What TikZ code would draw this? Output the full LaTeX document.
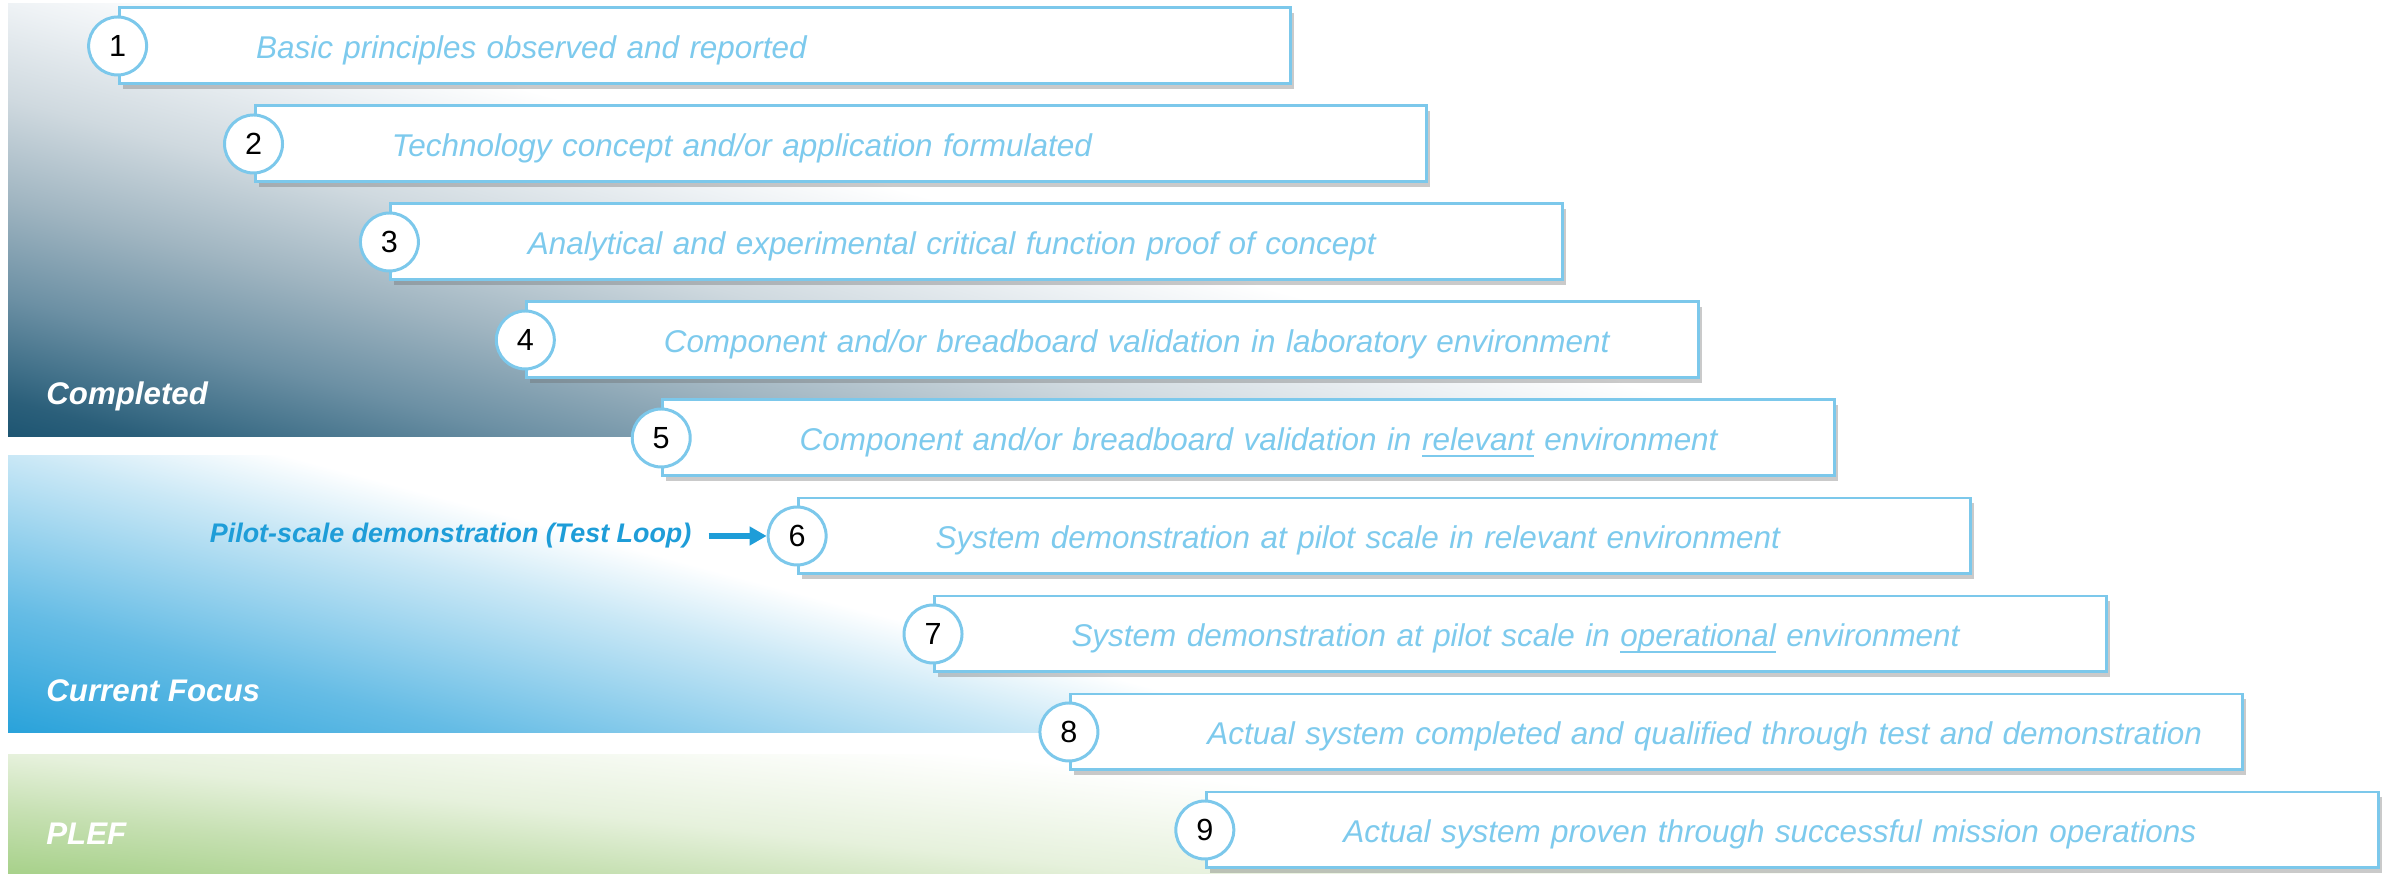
\documentclass[tikz,border=0pt]{standalone}
\usepackage{fontspec}
\setmainfont{Liberation Sans}
\usepackage{tikz}
\usetikzlibrary{arrows.meta}
\usetikzlibrary{positioning}
\usetikzlibrary{shadows}

\definecolor{trlblue}{HTML}{7CC8EB}
\definecolor{trltext}{HTML}{7DCAED}
\definecolor{pilotblue}{HTML}{1E9DD8}
\definecolor{compdark}{HTML}{1D5572}
\definecolor{compa}{HTML}{2B5F7A}
\definecolor{compb}{HTML}{3F6F88}
\definecolor{compc}{HTML}{6C90A4}
\definecolor{compd}{HTML}{A0B5C1}
\definecolor{compe}{HTML}{CFD9DF}
\definecolor{compf}{HTML}{EEF2F5}
\definecolor{focusblue}{HTML}{29A2DA}
\definecolor{focusmid}{HTML}{65BCE5}
\definecolor{focuslight}{HTML}{CAE8F6}
\definecolor{plefgreen}{HTML}{A7D18A}
\definecolor{plefmid}{HTML}{C6E0B2}
\definecolor{pleflight}{HTML}{E6F1DC}

% stops run from 25bp (zone corner) to 75bp (white)
\pgfdeclareverticalshading{completedshade}{100bp}{color(0bp)=(compdark); color(25bp)=(compdark); color(28.8bp)=(compa); color(32.1bp)=(compb); color(39.4bp)=(compc); color(49.4bp)=(compd); color(59.7bp)=(compe); color(69.5bp)=(compf); color(75bp)=(white); color(100bp)=(white)}
\pgfdeclareverticalshading{focusshade}{100bp}{color(0bp)=(focusblue); color(25bp)=(focusblue); color(42.6bp)=(focusmid); color(64.7bp)=(focuslight); color(75bp)=(white); color(100bp)=(white)}
\pgfdeclareverticalshading{plefshade}{100bp}{color(0bp)=(plefgreen); color(25bp)=(plefgreen); color(39.3bp)=(plefmid); color(52.3bp)=(pleflight); color(75bp)=(white); color(100bp)=(white)}

\newcommand{\trlunderline}[1]{\setbox0\hbox{#1}\rlap{\rule[-3.6pt]{\wd0}{1.4pt}}\box0\relax}

\begin{document}
\begin{tikzpicture}[x=0.02cm, y=0.02cm,
    stepbox/.style={draw=trlblue, line width=1.7pt, fill=white, minimum height=1.52cm,
        text width=23.44cm, inner xsep=0pt, align=left, text=trltext,
        text height=18.4pt, text depth=4pt,
        font=\fontsize{17.9}{20}\selectfont\itshape,
        execute at begin node={\noindent\hspace*{2.74cm}},
        drop shadow={shadow xshift=2pt, shadow yshift=-3pt, opacity=0.35, fill=black!60}},
    stepnum/.style={circle, draw=trlblue, line width=1.7pt, fill=white, minimum size=1.16cm,
        inner sep=0pt, font=\fontsize{17.4}{20}\selectfont},
    zonelabel/.style={anchor=base west, text=white, inner sep=0pt,
        font=\fontsize{17.8}{20}\selectfont\bfseries\itshape},
    pilotlabel/.style={text=pilotblue, inner xsep=0.34cm,
        font=\fontsize{15.3}{18}\selectfont\bfseries\itshape},
    pilotarrow/.style={draw=pilotblue, line width=0.12cm, -{Triangle[length=0.34cm, width=0.36cm]}}]

    \useasboundingbox (0,0) rectangle (2397,874);

    % zones
    \begin{scope}
        \clip (8,437) rectangle (2397,870);
        \begin{scope}[transform canvas={rotate around={-15:(8,437)}}]
            \shade[shading=completedshade] (-600,437) rectangle (2800,907);
        \end{scope}
    \end{scope}
    \begin{scope}
        \clip (8,141) rectangle (2397,418);
        \begin{scope}[transform canvas={rotate around={-15:(8,141)}}]
            \shade[shading=focusshade] (-600,141) rectangle (2800,481);
        \end{scope}
    \end{scope}
    \begin{scope}
        \clip (8,0) rectangle (2397,119);
        \begin{scope}[transform canvas={rotate around={-6:(8,0)}}]
            \shade[shading=plefshade] (-600,0) rectangle (2800,220);
        \end{scope}
    \end{scope}

    \node[zonelabel] (completed) at (46,469) {Completed};
    \node[zonelabel] (focus) at (46,172) {Current Focus};
    \node[zonelabel] (plef) at (46,29) {PLEF};

    % steps
    \node[stepbox] (step1) at (705,828) {Basic principles observed and reported};
    \node[stepbox] (step2) at (840.9,730) {Technology concept and/or application formulated};
    \node[stepbox] (step3) at (976.8,632) {Analytical and experimental critical function proof of concept};
    \node[stepbox] (step4) at (1112.7,534) {Component and/or breadboard validation in laboratory environment};
    \node[stepbox] (step5) at (1248.6,436) {Component and/or breadboard validation in \trlunderline{relevant} environment};
    \node[stepbox] (step6) at (1384.5,338) {System demonstration at pilot scale in relevant environment};
    \node[stepbox] (step7) at (1520.4,240) {System demonstration at pilot scale in \trlunderline{operational} environment};
    \node[stepbox] (step8) at (1656.3,142) {Actual system completed and qualified through test and demonstration};
    \node[stepbox] (step9) at (1792.2,44) {Actual system proven through successful mission operations};

    \node[stepnum] (num1) at (step1.west) {1};
    \node[stepnum] (num2) at (step2.west) {2};
    \node[stepnum] (num3) at (step3.west) {3};
    \node[stepnum] (num4) at (step4.west) {4};
    \node[stepnum] (num5) at (step5.west) {5};
    \node[stepnum] (num6) at (step6.west) {6};
    \node[stepnum] (num7) at (step7.west) {7};
    \node[stepnum] (num8) at (step8.west) {8};
    \node[stepnum] (num9) at (step9.west) {9};

    % test loop
    \node[pilotlabel, left=1.16cm of num6] (pilot) {Pilot-scale demonstration (Test Loop)};
    \draw[pilotarrow] (pilot) -- (num6);
\end{tikzpicture}
\end{document}
